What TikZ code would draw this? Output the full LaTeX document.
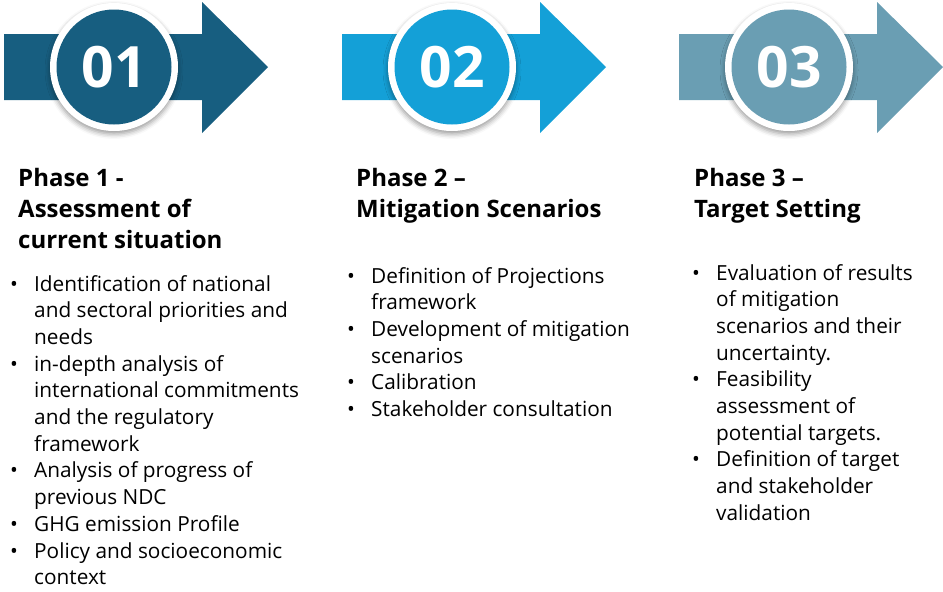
\documentclass[tikz,border=0pt]{standalone}
\usepackage{fontspec}
\setmainfont{Open Sans}
\usepackage{tikz}
\usetikzlibrary{positioning, shadows.blur}

\definecolor{phaseone}{HTML}{175E80}
\definecolor{phasetwo}{HTML}{14A0D7}
\definecolor{phasethree}{HTML}{6A9EB3}

\newcommand{\bul}{\makebox[24pt][l]{\textbullet}}
\newcommand{\ind}{\hspace*{24pt}}

\tikzset{
  ring/.style={circle, fill=white, minimum size=128pt, inner sep=0pt,
    blur shadow={shadow xshift=0pt, shadow yshift=-3pt, shadow blur radius=5pt, shadow opacity=40}},
  disc/.style={circle, minimum size=115pt, inner sep=0pt, text=white,
    font=\fontsize{57}{60}\selectfont\bfseries},
  heading/.style={anchor=base west, inner sep=0pt, font=\fontsize{24}{31}\selectfont\bfseries},
  items/.style={anchor=base west, inner sep=0pt, font=\fontsize{20.8}{26.7}\selectfont},
}

\begin{document}
\begin{tikzpicture}[x=1pt, y=-1pt]
  \useasboundingbox (0,0) rectangle (943,592);

  \foreach \i/\x/\col in {1/4/phaseone, 2/342/phasetwo, 3/679/phasethree}{
    \fill[\col] (\x,34) -- (\x+198,34) -- (\x+198,2) -- (\x+264,67)
      -- (\x+198,133) -- (\x+198,100) -- (\x,100) -- cycle;
    \node[ring] (ring\i) at (\x+110,67) {};
    \node[disc, fill=\col] (num\i) at (ring\i) {0\i};
  }

  \node[heading] (head1) at (18,186) {\begin{tabular}[t]{@{}l@{}}
    Phase 1 -\\ Assessment of\\ current situation\end{tabular}};
  \node[heading] (head2) at (356,186) {\begin{tabular}[t]{@{}l@{}}
    Phase 2 --\\ Mitigation Scenarios\end{tabular}};
  \node[heading] (head3) at (694,186) {\begin{tabular}[t]{@{}l@{}}
    Phase 3 --\\ Target Setting\end{tabular}};

  \node[items] (list1) at (10,291) {\begin{tabular}[t]{@{}l@{}}
    \bul Identification of national\\
    \ind and sectoral priorities and\\
    \ind needs\\
    \bul in-depth analysis of\\
    \ind international commitments\\
    \ind and the regulatory\\
    \ind framework\\
    \bul Analysis of progress of\\
    \ind previous NDC\\
    \bul GHG emission Profile\\
    \bul Policy and socioeconomic\\
    \ind context\end{tabular}};
  \node[items] (list2) at (347,283) {\begin{tabular}[t]{@{}l@{}}
    \bul Definition of Projections\\
    \ind framework\\
    \bul Development of mitigation\\
    \ind scenarios\\
    \bul Calibration\\
    \bul Stakeholder consultation\end{tabular}};
  \node[items] (list3) at (692,280) {\begin{tabular}[t]{@{}l@{}}
    \bul Evaluation of results\\
    \ind of mitigation\\
    \ind scenarios and their\\
    \ind uncertainty.\\
    \bul Feasibility\\
    \ind assessment of\\
    \ind potential targets.\\
    \bul Definition of target\\
    \ind and stakeholder\\
    \ind validation\end{tabular}};
\end{tikzpicture}
\end{document}
